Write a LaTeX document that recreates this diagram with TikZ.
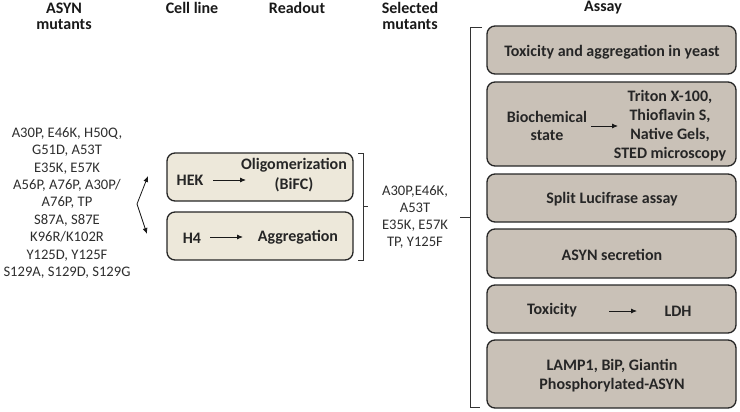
\documentclass[tikz,border=0pt]{standalone}
\usepackage{fontspec}
\setmainfont{Carlito}
\usetikzlibrary{arrows.meta}
\definecolor{txt}{HTML}{2E2E2E}
\definecolor{lightbox}{HTML}{EDE8DA}
\definecolor{assaybox}{HTML}{C9C1B7}
\tikzset{
  hdr/.style={font=\fontsize{16}{16}\selectfont\bfseries, text=black!90, align=center, inner sep=0pt},
  plain/.style={font=\fontsize{14.6}{17.4}\selectfont, text=txt, align=center, inner sep=0pt},
  btxt/.style={font=\fontsize{16}{19}\selectfont\bfseries, text=black!85, align=center, inner sep=0pt},
  cellbox/.style={draw=black!85, line width=1.3pt, rounded corners=8pt, fill=lightbox},
  abox/.style={draw=black!85, line width=1.3pt, rounded corners=8pt, fill=assaybox},
  tip/.style={-{Latex[length=6pt,width=5pt]}, line width=0.8pt, black!90},
  brk/.style={line width=0.8pt, black!80},
}
\begin{document}
\begin{tikzpicture}[x=1pt,y=-1pt]
\useasboundingbox (0,0) rectangle (740,412);
% headers
\node[hdr] (h1) at (64,16) {ASYN\\mutants};
\node[hdr] (h2) at (192,8) {Cell line};
\node[hdr] (h3) at (297,8) {Readout};
\node[hdr] (h4) at (410,16) {Selected\\mutants};
\node[hdr] (h5) at (603,8) {Assay};
% mutants
\node[plain] (mut) at (67,203) {A30P, E46K, H50Q,\\G51D, A53T\\E35K, E57K\\A56P, A76P, A30P/\\A76P, TP\\S87A, S87E\\K96R/K102R\\Y125D, Y125F\\S129A, S129D, S129G};
% zigzag arrows
\coordinate (v) at (137,204);
\coordinate (up) at (148,176);
\coordinate (dn) at (147,234);
\draw[tip] (v) -- (up);
\draw[tip] (v) -- (dn);
% cell boxes
\draw[cellbox] (167,153) rectangle (353,201);
\draw[cellbox] (167,212) rectangle (353,260);
\node[btxt] (hek) at (190,180) {HEK};
\node[btxt, font=\fontsize{16}{20}\selectfont\bfseries] (oli) at (294,175) {Oligomerization\\(BiFC)};
\draw[tip] (213,180) -- (246,180);
\node[btxt] (h4n) at (192,238) {H4};
\node[btxt] (agg) at (298,237) {Aggregation};
\draw[tip] (210,237) -- (243,237);
% small bracket
\coordinate (b1t) at (358,153);
\coordinate (b1b) at (358,260);
\coordinate (b1m) at (368,206);
\draw[brk] (b1t) -- (363,153) -- (363,260) -- (b1b);
\draw[brk] (363,206) -- (b1m);
% selected
\node[plain, font=\fontsize{14.6}{16.8}\selectfont] (sel) at (415,217) {A30P,E46K,\\A53T\\E35K, E57K\\TP, Y125F};
% big bracket
\draw[brk] (482,27) -- (470,27) -- (470,407) -- (480,407);
\draw[brk] (470,217) -- (460,217);
% assay boxes
\draw[abox] (487,26) rectangle (736,74);
\node[btxt] (a1) at (612,52) {Toxicity and aggregation in yeast};
\draw[abox] (487,82) rectangle (736,166);
\node[btxt, font=\fontsize{16}{18}\selectfont\bfseries] (bio) at (547,126) {Biochemical\\state};
\node[btxt] (tri) at (670,125.5) {Triton X-100,\\Thioflavin S,\\Native Gels,\\STED microscopy};
\draw[tip] (591,126) -- (618,126);
\draw[abox] (487,174) rectangle (736,222);
\node[btxt] (a3) at (612,199) {Split Lucifrase assay};
\draw[abox] (487,229) rectangle (736,278);
\node[btxt] (a4) at (612,255) {ASYN secretion};
\draw[abox] (487,285) rectangle (736,333);
\node[btxt] (tox) at (552,310) {Toxicity};
\node[btxt] (ldh) at (678,311) {LDH};
\draw[tip] (609,311) -- (637,311);
\draw[abox] (487,340) rectangle (736,408);
\node[btxt] (a6) at (612,376) {LAMP1, BiP, Giantin\\Phosphorylated-ASYN};
\end{tikzpicture}
\end{document}
